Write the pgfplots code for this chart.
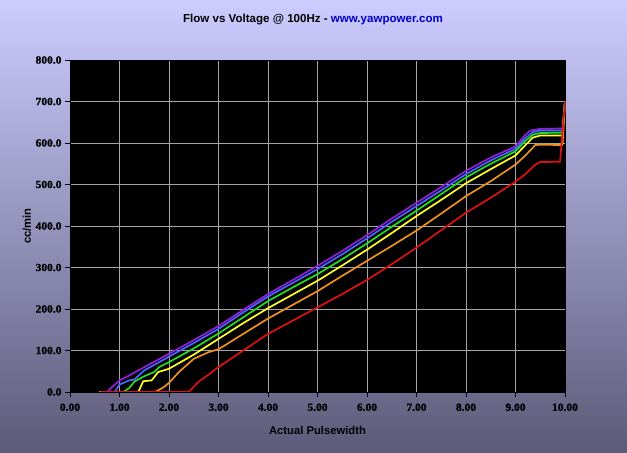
\documentclass[border=0pt]{standalone}
\usepackage{pgfplots}
\pgfplotsset{compat=1.18}
\usepackage{fontspec}
\setmainfont{Liberation Sans}
\newfontfamily\tickfont[FakeStretch=1.05, FakeBold=1.2]{Liberation Serif}
\definecolor{bgtop}{HTML}{CCCCFF}
\definecolor{bgmid}{HTML}{A3A1CD}
\definecolor{bgbot}{HTML}{5D5A78}
\definecolor{lpurple}{HTML}{9020E0}
\definecolor{lblue}{HTML}{4866FF}
\definecolor{lgreen}{HTML}{20E020}
\definecolor{lyellow}{HTML}{FFFF20}
\definecolor{lorange}{HTML}{F09020}
\definecolor{lred}{HTML}{E01010}
\definecolor{urlblue}{HTML}{0000CC}
\begin{document}
\begin{tikzpicture}
\useasboundingbox (0,0) rectangle (627bp,453bp);
\shade[top color=bgtop, middle color=bgmid, bottom color=bgbot] (0,0) rectangle (627bp,453bp);
\node[font=\bfseries\fontsize{11.6}{13}\selectfont] at (313bp,433bp) {Flow vs Voltage @ 100Hz - \textcolor{urlblue}{www.yawpower.com}};
\node[font=\bfseries\fontsize{11.3}{13}\selectfont] at (317.5bp,23bp) {Actual Pulsewidth};
\node[font=\bfseries\fontsize{11.3}{13}\selectfont, rotate=90] at (27bp,227bp) {cc/min};
\begin{axis}[
  at={(70bp,61bp)}, anchor=south west,
  scale only axis, width=495bp, height=332bp,
  xmin=0, xmax=10, ymin=0, ymax=800,
  xtick={0,1,...,10}, ytick={0,100,...,800},
  axis background/.style={fill=black},
  axis line style={black, line width=0.8pt},
  grid=major, grid style={color=black!35, line width=0.7pt},
  tick align=outside, major tick length=5bp,
  tick style={black, line width=0.8pt},
  xtick pos=bottom, ytick pos=left,
  tick label style={font=\tickfont\bfseries\fontsize{11}{12}\selectfont, text=black},
  /pgf/number format/assume math mode=true,
  xticklabel style={yshift=-3bp, /pgf/number format/.cd, fixed, fixed zerofill, precision=2},
  yticklabel style={/pgf/number format/.cd, fixed, fixed zerofill, precision=1, 1000 sep={}},
  scaled ticks=false,
  every axis plot/.append style={line width=1.7bp, line join=round},
  clip=true,
]
\addplot[lpurple] coordinates {(0.6,0)(0.75,0)(0.85,12)(1.0,28)(1.2,40)(1.5,60)(2.0,92)(2.5,125)(3.0,159)(3.5,198)(4.0,236)(4.5,270)(5.0,304)(5.5,340)(6.0,378)(6.5,418)(7.0,456)(7.5,494)(8.0,533)(8.5,565)(9.0,592)(9.2,620)(9.3,630)(9.5,634)(9.95,635)(10,700)};
\addplot[lblue] coordinates {(0.6,0)(0.9,0)(1.0,18)(1.2,28)(1.3,30)(1.5,52)(2.0,85)(2.5,118)(3.0,152)(3.5,192)(4.0,230)(4.5,263)(5.0,296)(5.5,332)(6.0,370)(6.5,410)(7.0,448)(7.5,486)(8.0,525)(8.5,558)(9.0,586)(9.2,612)(9.35,626)(9.5,630)(9.95,630)(10,700)};
\addplot[lgreen] coordinates {(0.6,0)(1.08,0)(1.2,10)(1.3,25)(1.5,38)(1.7,48)(1.8,60)(2.0,72)(2.5,105)(3.0,141)(3.5,180)(4.0,219)(4.5,252)(5.0,284)(5.5,320)(6.0,358)(6.5,398)(7.0,437)(7.5,477)(8.0,517)(8.5,550)(9.0,580)(9.2,605)(9.35,620)(9.5,624)(9.95,625)(10,700)};
\addplot[lyellow] coordinates {(0.6,0)(1.38,0)(1.48,26)(1.65,28)(1.78,48)(2.0,56)(2.5,90)(3.0,128)(3.5,166)(4.0,202)(4.5,235)(5.0,268)(5.5,305)(6.0,343)(6.5,383)(7.0,424)(7.5,463)(8.0,503)(8.5,537)(9.0,570)(9.2,595)(9.35,613)(9.5,618)(9.95,618)(10,700)};
\addplot[lorange] coordinates {(0.6,0)(1.72,0)(1.9,12)(2.0,22)(2.2,48)(2.5,80)(2.8,96)(3.0,103)(3.5,140)(4.0,177)(4.5,210)(5.0,243)(5.5,280)(6.0,316)(6.5,352)(7.0,389)(7.5,430)(8.0,472)(8.5,508)(9.0,548)(9.2,570)(9.4,595)(9.5,596)(9.95,595)(10,700)};
\addplot[lred] coordinates {(0.62,0)(2.4,0)(2.6,25)(2.8,42)(3.0,60)(3.5,100)(4.0,140)(4.5,172)(5.0,204)(5.5,236)(6.0,270)(6.5,308)(7.0,348)(7.5,390)(8.0,432)(8.5,468)(9.0,507)(9.2,525)(9.4,548)(9.5,554)(9.9,555)(10,700)};
\end{axis}
\end{tikzpicture}
\end{document}
